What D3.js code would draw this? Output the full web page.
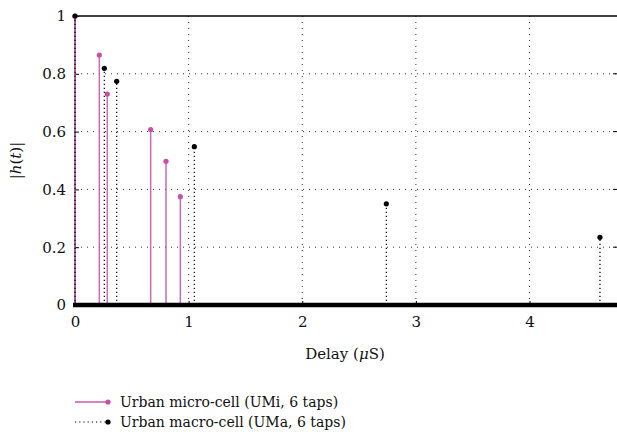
<!DOCTYPE html>
<meta charset="utf-8">
<script src="https://cdn.jsdelivr.net/npm/d3@7"></script>
<style>
body { margin: 0; background: #fff; }
svg text { fill: #111; }
</style>
<body>
<script>
// data
var umiDelay = [0, 0.214, 0.284, 0.666, 0.801, 0.927],
    umiGain  = [1, 0.865, 0.730, 0.607, 0.497, 0.375];
var umaDelay = [0, 0.258, 0.367, 1.05, 2.74, 4.62],
    umaGain  = [1, 0.819, 0.774, 0.548, 0.350, 0.234];
var xTicks = [0, 1, 2, 3, 4],
    yTicks = [0, 0.2, 0.4, 0.6, 0.8, 1];
var legendNames = ["Urban micro-cell (UMi, 6 taps)", "Urban macro-cell (UMa, 6 taps)"];

var w = 617, h = 444,
    m = {top: 16, right: 0, bottom: 139, left: 75};
var pink = "#c451a6";
var serif = "DejaVu Serif";

var x = d3.scaleLinear().domain([0, 4.77]).range([m.left, w - m.right]);
var y = d3.scaleLinear().domain([0, 1]).range([h - m.bottom, m.top]);

var svg = d3.select("body").append("svg").attr("width", w).attr("height", h)
  .style("font-family", serif);

// grid
svg.append("g").selectAll("line").data(xTicks.slice(1)).enter().append("line")
  .attr("x1", d => x(d)).attr("x2", d => x(d))
  .attr("y1", y(0)).attr("y2", y(1))
  .attr("stroke", "#333").attr("stroke-width", 1).attr("stroke-dasharray", "1,5");
svg.append("g").selectAll("line").data(yTicks.slice(1, 5)).enter().append("line")
  .attr("x1", x(0)).attr("x2", w)
  .attr("y1", d => y(d)).attr("y2", d => y(d))
  .attr("stroke", "#333").attr("stroke-width", 1).attr("stroke-dasharray", "1,5");

// axes
var xAxis = svg.append("g").attr("transform", "translate(0," + y(0) + ")")
  .call(d3.axisBottom(x).tickValues(xTicks).tickSize(-4).tickPadding(11).tickFormat(d3.format("d")));
var yAxis = svg.append("g").attr("transform", "translate(" + x(0) + ",0)")
  .call(d3.axisLeft(y).tickValues(yTicks).tickSize(-4).tickPadding(9).tickFormat(d => d));
[xAxis, yAxis].forEach(function(a) {
  a.attr("font-family", null).attr("font-size", 15);
  a.select(".domain").remove();
  a.selectAll("line").attr("stroke", "#000");
  a.selectAll("text").attr("fill", "#111").style("font-family", serif);
});
svg.append("g").selectAll("line").data(yTicks.slice(1, 5)).enter().append("line")
  .attr("x1", w - 4).attr("x2", w).attr("y1", d => y(d)).attr("y2", d => y(d)).attr("stroke", "#000");

svg.append("line").attr("x1", x(0)).attr("x2", w).attr("y1", y(1)).attr("y2", y(1))
  .attr("stroke", "#000").attr("stroke-width", 1.6);
svg.append("line").attr("x1", x(0)).attr("x2", x(0)).attr("y1", y(0)).attr("y2", y(1))
  .attr("stroke", "#000").attr("stroke-width", 1);

// stems
var umi = umiDelay.map((d, i) => ({d: d, g: umiGain[i]}));
var uma = umaDelay.map((d, i) => ({d: d, g: umaGain[i]}));

svg.append("g").selectAll("line").data(umi).enter().append("line")
  .attr("x1", d => x(d.d)).attr("x2", d => x(d.d))
  .attr("y1", y(0)).attr("y2", d => y(d.g))
  .attr("stroke", pink).attr("stroke-opacity", 0.85).attr("stroke-width", 1.5);
svg.append("g").selectAll("line").data(uma).enter().append("line")
  .attr("x1", d => x(d.d)).attr("x2", d => x(d.d))
  .attr("y1", y(0)).attr("y2", d => y(d.g))
  .attr("stroke", "#000").attr("stroke-width", 1.2).attr("stroke-dasharray", "1.2,2.8");
svg.append("g").selectAll("circle").data(umi).enter().append("circle")
  .attr("cx", d => x(d.d)).attr("cy", d => y(d.g)).attr("r", 2.6).attr("fill", pink);
svg.append("g").selectAll("circle").data(uma).enter().append("circle")
  .attr("cx", d => x(d.d)).attr("cy", d => y(d.g)).attr("r", 2.6).attr("fill", "#000");

// zero samples form a thick band along the baseline
svg.append("line").attr("x1", x(0) - 2).attr("x2", w).attr("y1", y(0)).attr("y2", y(0))
  .attr("stroke", "#000").attr("stroke-width", 4.5);

// labels
svg.append("text").attr("x", (x(0) + w) / 2 - 1).attr("y", 359).attr("text-anchor", "middle")
  .attr("font-size", 15)
  .html('Delay (<tspan font-style="italic">μ</tspan>S)');
svg.append("text").attr("transform", "translate(21," + y(0.5) + ") rotate(-90)")
  .attr("text-anchor", "middle").attr("font-size", 15)
  .html('|<tspan font-style="italic">h</tspan>(<tspan font-style="italic">t</tspan>)|');

// legend
var lg = svg.append("g").selectAll("g").data(legendNames).enter().append("g")
  .attr("transform", (d, i) => "translate(75," + (402 + i * 20) + ")");
lg.append("line").attr("x1", 0).attr("x2", 32).attr("y1", 0).attr("y2", 0)
  .attr("stroke", (d, i) => i ? "#000" : pink)
  .attr("stroke-width", (d, i) => i ? 1.2 : 1.4)
  .attr("stroke-dasharray", (d, i) => i ? "1.2,3" : null);
lg.append("circle").attr("cx", 33).attr("cy", 0).attr("r", 2.6).attr("fill", (d, i) => i ? "#000" : pink);
lg.append("text").attr("x", 45).attr("y", 5).attr("font-size", 14).text(d => d);
</script>
</body>
